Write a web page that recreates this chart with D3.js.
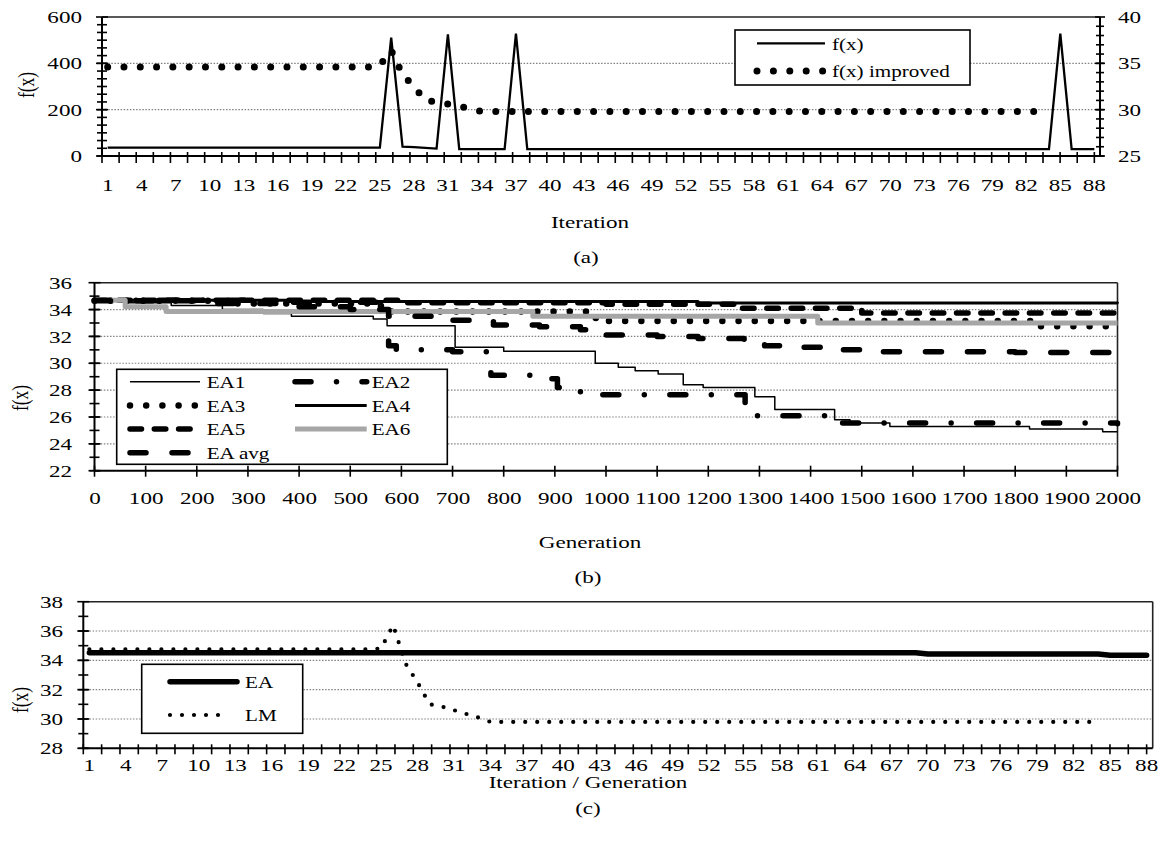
<!DOCTYPE html>
<html>
<head>
<meta charset="utf-8">
<script src="https://cdn.jsdelivr.net/npm/d3@7"></script>
<style>
  body { margin: 0; background: #fff; }
  svg text { font-family: "Liberation Serif", "Times New Roman", serif; fill: #000; }
</style>
</head>
<body>
<svg id="chart" width="1161" height="858"></svg>
<script>
// ---------- data ----------
const iterations = d3.range(1, 89);
const iterLabels = iterations.filter(i => (i - 1) % 3 === 0);

// (a) f(x) on the left axis, f(x) improved on the right axis
const fx = [36, 36, 36, 36, 36, 36, 36, 36, 36, 36,
            36, 36, 36, 36, 36, 36, 36, 36, 36, 36,
            36, 36, 36, 36, 36, 511, 40, 38, 35, 32,
            525, 30, 30, 30, 30, 30, 528, 30, 30, 30,
            30, 30, 30, 30, 30, 30, 30, 30, 30, 30,
            30, 30, 30, 30, 30, 30, 30, 30, 30, 30,
            30, 30, 30, 30, 30, 30, 30, 30, 30, 30,
            30, 30, 30, 30, 30, 30, 30, 30, 30, 30,
            30, 30, 30, 30, 528, 30, 30, 30];
const fxImproved = [34.6, 34.6, 34.6, 34.6, 34.6, 34.6, 34.6, 34.6, 34.6, 34.6,
                    34.6, 34.6, 34.6, 34.6, 34.6, 34.6, 34.6, 34.6, 34.6, 34.6,
                    34.6, 34.6, 34.6, 34.6, 34.8, 36.4, 33.8, 32.5, 31.0, 30.85,
                    30.6, 30.35, 30.1, 29.8, 29.8, 29.8, 29.8, 29.8, 29.8, 29.8,
                    29.8, 29.8, 29.8, 29.8, 29.8, 29.8, 29.8, 29.8, 29.8, 29.8,
                    29.8, 29.8, 29.8, 29.8, 29.8, 29.8, 29.8, 29.8, 29.8, 29.8,
                    29.8, 29.8, 29.8, 29.8, 29.8, 29.8, 29.8, 29.8, 29.8, 29.8,
                    29.8, 29.8, 29.8, 29.8, 29.8, 29.8, 29.8, 29.8, 29.8, 29.8,
                    29.8, 29.8, 29.8, 29.8];

// (b) best f(x) per generation, [generation, value] step points
const ea1 = [[0, 34.7], [60, 34.5], [150, 34.3], [250, 34.0], [330, 33.7], [385, 33.5], [545, 33.3],
             [572, 32.8], [705, 31.2], [800, 30.9], [979, 30.0], [1024, 29.7], [1057, 29.45],
             [1102, 29.2], [1151, 28.4], [1190, 28.2], [1291, 27.5], [1330, 26.55], [1447, 25.8],
             [1477, 25.55], [1555, 25.3], [1828, 25.1], [1971, 24.9], [2000, 24.9]];
const ea2 = [[0, 34.7], [300, 34.55], [572, 34.3], [575, 31.3], [590, 31.0], [700, 30.85],
             [775, 29.1], [857, 28.85], [905, 28.2], [950, 27.65], [1272, 26.6], [1290, 26.1],
             [1440, 25.55], [2000, 25.5]];
const ea3 = [[0, 34.65], [250, 34.45], [560, 33.85], [980, 33.15], [1850, 32.75], [2000, 32.75]];
const ea4 = [[0, 34.7], [400, 34.6], [1180, 34.48], [2000, 34.45]];
const ea5 = [[0, 34.7], [600, 34.5], [1000, 34.4], [1250, 34.1], [1500, 33.75], [2000, 33.75]];
const ea6 = [[0, 34.7], [60, 34.2], [140, 33.85], [857, 33.5], [1414, 33.0], [2000, 33.0]];
const eaAvg = [[0, 34.65], [200, 34.45], [400, 34.2], [500, 34.0], [575, 33.5], [700, 33.2],
               [780, 32.85], [870, 32.72], [950, 32.5], [1000, 32.1], [1100, 32.0], [1180, 31.85],
               [1270, 31.6], [1310, 31.3], [1340, 31.2], [1460, 31.0], [1500, 30.85], [1800, 30.8],
               [2000, 30.8]];
const genTicks = d3.range(0, 2001, 100);

// (c) EA vs LM
const eaC = [34.52, 34.52, 34.52, 34.52, 34.52, 34.52, 34.52, 34.52, 34.52, 34.52,
             34.52, 34.52, 34.52, 34.52, 34.52, 34.52, 34.52, 34.52, 34.52, 34.52,
             34.52, 34.52, 34.52, 34.52, 34.52, 34.52, 34.52, 34.52, 34.52, 34.52,
             34.52, 34.52, 34.52, 34.52, 34.52, 34.52, 34.52, 34.52, 34.52, 34.52,
             34.52, 34.52, 34.52, 34.52, 34.52, 34.52, 34.52, 34.52, 34.52, 34.52,
             34.52, 34.52, 34.52, 34.52, 34.52, 34.52, 34.52, 34.52, 34.52, 34.52,
             34.52, 34.52, 34.52, 34.52, 34.52, 34.52, 34.52, 34.52, 34.52, 34.43,
             34.43, 34.43, 34.43, 34.43, 34.43, 34.43, 34.43, 34.43, 34.43, 34.43,
             34.43, 34.43, 34.43, 34.43, 34.34, 34.34, 34.34, 34.34];
const lmC = [34.75, 34.75, 34.75, 34.75, 34.75, 34.75, 34.75, 34.75, 34.75, 34.75,
             34.75, 34.75, 34.75, 34.75, 34.75, 34.75, 34.75, 34.75, 34.75, 34.75,
             34.75, 34.75, 34.75, 34.75, 34.8, 36.4, 33.8, 32.5, 31.0, 30.85,
             30.6, 30.35, 30.1, 29.8, 29.8, 29.8, 29.8, 29.8, 29.8, 29.8,
             29.8, 29.8, 29.8, 29.8, 29.8, 29.8, 29.8, 29.8, 29.8, 29.8,
             29.8, 29.8, 29.8, 29.8, 29.8, 29.8, 29.8, 29.8, 29.8, 29.8,
             29.8, 29.8, 29.8, 29.8, 29.8, 29.8, 29.8, 29.8, 29.8, 29.8,
             29.8, 29.8, 29.8, 29.8, 29.8, 29.8, 29.8, 29.8, 29.8, 29.8,
             29.8, 29.8, 29.8, 29.8];

// ---------- helpers ----------
const svg = d3.select("#chart");
const SX = 1.32;          // the original figure is stretched horizontally
const FONT = 17.5, LFONT = 16;
const GRID = "#808080";

function txt(x, y, s, size, anchor, rot) {
  return svg.append("text")
    .attr("transform", `translate(${x},${y}) scale(${SX},1)` + (rot ? " rotate(-90)" : ""))
    .attr("text-anchor", anchor || "middle")
    .attr("dy", "0.35em")
    .attr("font-size", size)
    .text(s);
}

function line(x1, y1, x2, y2, w, color, dash) {
  return svg.append("line")
    .attr("x1", x1).attr("y1", y1).attr("x2", x2).attr("y2", y2)
    .attr("stroke", color || "#000").attr("stroke-width", w)
    .attr("stroke-dasharray", dash || null);
}

function axisText(axis, tx, ty) {
  const g = svg.append("g").attr("transform", `translate(${tx},${ty})`).call(axis);
  g.attr("font-size", FONT);
  g.select(".domain").remove();
  g.selectAll("text").attr("transform", `scale(${SX},1)`);
  return g;
}

function vTicks(ys, x, a, b) { ys.forEach(y => line(x - a, y, x + b, y, 1.6)); }
function hTicks(xs, y, a, b) { xs.forEach(x => line(x, y - a, x, y + b, 1.6)); }

function grid(vals, scale, x1, x2) {
  vals.forEach(v => line(x1, scale(v), x2, scale(v), 1.2, GRID, "1.5 1.6"));
}

function seriesPath(data, gen, st) {
  return svg.append("path").datum(data).attr("d", gen)
    .attr("fill", "none")
    .attr("stroke", st.color || "#000")
    .attr("stroke-width", st.w)
    .attr("stroke-dasharray", st.dash || null)
    .attr("stroke-linecap", st.cap || "butt")
    .attr("stroke-linejoin", "round");
}

function legendLine(x1, x2, y, st) {
  line(x1, y, x2, y, st.w, st.color, st.dash).attr("stroke-linecap", st.cap || "butt");
}

function legendText(x, y, s) {
  svg.append("text")
    .attr("transform", `translate(${x},${y}) scale(${SX},1)`)
    .attr("font-size", LFONT).attr("dy", "0.4em").text(s);
}

function catTicks(xs) {
  const x0 = xs.range()[0];
  const xEnd = xs(iterations[iterations.length - 1]) + xs.bandwidth() / 2;
  return d3.range(59).map(k => x0 + k * (xEnd - x0) / 58);
}

// ---------- panel (a) ----------
const A = { left: 102, right: 1100, top: 17, bottom: 156 };
const xA = d3.scaleBand().domain(iterations).range([A.left, A.right]);
const yA = d3.scaleLinear().domain([0, 600]).range([A.bottom, A.top]);
const yA2 = d3.scaleLinear().domain([25, 40]).range([A.bottom, A.top]);

grid([200, 400], yA, A.left, A.right);
line(A.left, A.top, A.right, A.top, 1.6, "#222");

const lineFx = d3.line().x((d, i) => xA(iterations[i]) + xA.bandwidth() / 2).y(d => yA(d));
const lineFxI = d3.line().x((d, i) => xA(iterations[i]) + xA.bandwidth() / 2).y(d => yA2(d));
seriesPath(fx, lineFx, { w: 2.3 }).attr("stroke-linejoin", "miter");
seriesPath(fxImproved, lineFxI, { w: 7, dash: "0 16.3", cap: "round" });

// axes
line(A.left, A.top, A.left, A.bottom, 2);
line(A.right, A.top, A.right, A.bottom, 2);
line(A.left, A.bottom, A.right, A.bottom, 2);
vTicks([0, 200, 400, 600].map(yA), A.left, 6, 6);
vTicks(d3.range(0, 600, 200 / 6).map(yA), A.left, 5, 5);
vTicks(d3.range(25, 41, 5).map(yA2), A.right, 5, 5);
vTicks(d3.range(25, 40, 1).map(yA2), A.right, 4, 4);
hTicks(catTicks(xA), A.bottom, 4, 7);

axisText(d3.axisLeft(yA).tickValues([0, 200, 400, 600]).tickSize(0).tickPadding(20 / SX), A.left, 0);
axisText(d3.axisRight(yA2).tickValues([25, 30, 35, 40]).tickSize(0).tickPadding(18 / SX), A.right, 0);
axisText(d3.axisBottom(xA).tickValues(iterLabels).tickSize(0).tickPadding(23), 0, A.bottom);

txt(26, 85, "f(x)", FONT, "middle", true);
txt(590, 222, "Iteration", FONT);
txt(586, 257, "(a)", FONT);

// legend (a)
svg.append("rect").attr("x", 735).attr("y", 30).attr("width", 235).attr("height", 55)
  .attr("fill", "#fff").attr("stroke", "#000").attr("stroke-width", 1.6);
legendLine(757, 825, 43.3, { w: 2.3 });
legendText(832, 43.3, "f(x)");
legendLine(757, 823, 71, { w: 7, dash: "0 16.4", cap: "round" });
legendText(832, 71, "f(x) improved");

// ---------- panel (b) ----------
const B = { left: 94.5, right: 1117.5, top: 282.7, bottom: 470.7 };
const xB = d3.scaleLinear().domain([0, 2000]).range([B.left, B.right]);
const yB = d3.scaleLinear().domain([22, 36]).range([B.bottom, B.top]);

grid(d3.range(24, 35, 2), yB, B.left, B.right);
line(B.left, B.top, B.right, B.top, 1.6, "#222");
line(B.right, B.top, B.right, B.bottom, 1.6, "#222");

const styles = {
  EA1: { w: 1.5 },
  EA2: { w: 5.5, dash: "16 25.5 0 25.5", cap: "round" },
  EA3: { w: 6.5, dash: "0 16.2", cap: "round" },
  EA4: { w: 3 },
  EA5: { w: 5.5, dash: "11.5 12.8", cap: "round" },
  EA6: { w: 5, color: "#a6a6a6" },
  "EA avg": { w: 5.5, dash: "16 26", cap: "round" }
};
const seriesB = [["EA1", ea1], ["EA2", ea2], ["EA3", ea3], ["EA4", ea4], ["EA5", ea5], ["EA6", ea6], ["EA avg", eaAvg]];
const lineB = d3.line().x(d => xB(d[0])).y(d => yB(d[1])).curve(d3.curveStepAfter);
seriesB.forEach(([name, data]) => seriesPath(data, lineB, styles[name]));

line(B.left, B.top, B.left, B.bottom, 2);
line(B.left, B.bottom, B.right, B.bottom, 2);
vTicks(d3.range(22, 37, 2).map(yB), B.left, 6, 6);
vTicks(d3.range(22, 36, 1).map(yB), B.left, 5, 5);
hTicks(genTicks.map(xB), B.bottom, 5, 6);

axisText(d3.axisLeft(yB).tickValues(d3.range(22, 37, 2)).tickSize(0).tickPadding(22.5 / SX), B.left, 0);
axisText(d3.axisBottom(xB).tickValues(genTicks).tickFormat(d3.format("d")).tickSize(0).tickPadding(21), 0, B.bottom);

txt(20, 398, "f(x)", FONT, "middle", true);
txt(590, 542, "Generation", FONT);
txt(588, 577, "(b)", FONT);

// legend (b)
svg.append("rect").attr("x", 116.7).attr("y", 369.3).attr("width", 330.6).attr("height", 95)
  .attr("fill", "#fff").attr("stroke", "#000").attr("stroke-width", 1.6);
const legRows = [381.7, 405.5, 429, 452.7];
const legB = [["EA1", 0, 0], ["EA2", 1, 0], ["EA3", 0, 1], ["EA4", 1, 1], ["EA5", 0, 2], ["EA6", 1, 2], ["EA avg", 0, 3]];
const legCols = [{ x1: 130, x2: 200, tx: 206.7 }, { x1: 295, x2: 366.7, tx: 371.7 }];
legB.forEach(([name, c, r]) => {
  const col = legCols[c];
  legendLine(col.x1, col.x2, legRows[r], styles[name]);
  legendText(col.tx, legRows[r], name);
});

// ---------- panel (c) ----------
const C = { left: 83.3, right: 1152.7, top: 601.7, bottom: 748.3 };
const xC = d3.scaleBand().domain(iterations).range([C.left, C.right]);
const yC = d3.scaleLinear().domain([28, 38]).range([C.bottom, C.top]);

grid(d3.range(30, 37, 2), yC, C.left, C.right);
line(C.left, C.top, C.right, C.top, 1.6, "#222");
line(C.right, C.top, C.right, C.bottom, 1.6, "#222");

const lineC = d3.line().x((d, i) => xC(iterations[i]) + xC.bandwidth() / 2).y(d => yC(d));
seriesPath(lmC, lineC, { w: 4.2, dash: "0 12", cap: "round" });
seriesPath(eaC, lineC, { w: 5.5, cap: "round" });

line(C.left, C.top, C.left, C.bottom, 2);
line(C.left, C.bottom, C.right, C.bottom, 2);
vTicks(d3.range(28, 39, 2).map(yC), C.left, 6, 6);
vTicks(d3.range(28, 38, 1).map(yC), C.left, 5, 5);
hTicks(catTicks(xC), C.bottom, 4, 6);

axisText(d3.axisLeft(yC).tickValues(d3.range(28, 39, 2)).tickSize(0).tickPadding(20.3 / SX), C.left, 0);
axisText(d3.axisBottom(xC).tickValues(iterLabels).tickSize(0).tickPadding(10), 0, C.bottom);

txt(20, 700, "f(x)", FONT, "middle", true);
txt(588, 782, "Iteration / Generation", FONT);
txt(588, 808, "(c)", FONT);

// legend (c)
svg.append("rect").attr("x", 141.7).attr("y", 664.3).attr("width", 161).attr("height", 69)
  .attr("fill", "#fff").attr("stroke", "#000").attr("stroke-width", 1.6);
legendLine(170, 237, 681.7, { w: 5.5, cap: "round" });
legendText(245, 681.7, "EA");
legendLine(170, 230, 715, { w: 4.2, dash: "0 12", cap: "round" });
legendText(245, 715, "LM");
</script>
</body>
</html>
